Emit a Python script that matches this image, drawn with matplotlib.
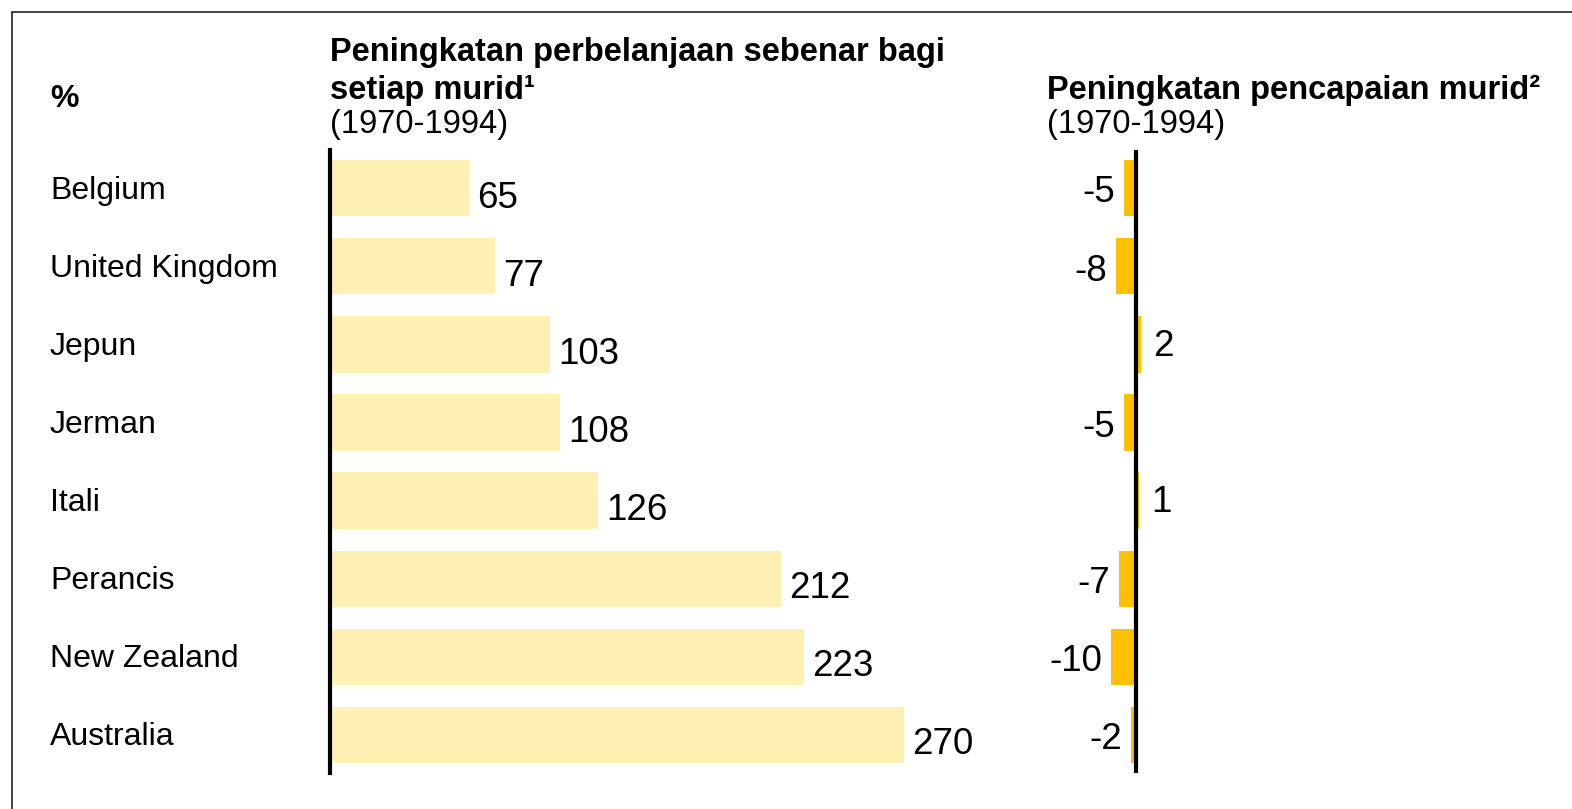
import matplotlib.pyplot as plt
from matplotlib.patches import Rectangle

plt.rcParams['font.family'] = ['Liberation Sans', 'DejaVu Sans']

countries = ['Belgium', 'United Kingdom', 'Jepun', 'Jerman', 'Itali',
             'Perancis', 'New Zealand', 'Australia']
spending = [65, 77, 103, 108, 126, 212, 223, 270]
achievement = [-5, -8, 2, -5, 1, -7, -10, -2]

W, H = 1572, 809
fig = plt.figure(figsize=(W / 100, H / 100), dpi=100)

# figure border (only top/left visible in reference)
fig.patches.append(Rectangle((12 / W, -0.1), 2, 1 - 12 / H + 0.1, transform=fig.transFigure,
                             fill=False, edgecolor='#222222', linewidth=1.2))

y0 = 1 - 773 / H
y1 = 1 - 150 / H
ypos = list(range(len(countries)))

# left panel: spending
ax1 = fig.add_axes([330 / W, y0, 700 / W, y1 - y0])
ax1.barh(ypos, spending, height=0.72, color='#FFF0B3', left=0.6)
ax1.set_xlim(0, 700 / 2.12)
ax1.set_ylim(7.49, -0.49)
for i, v in enumerate(spending):
    ax1.text(v + 4.5, i + 0.13, str(v), fontsize=26.5, va='center', ha='left')

# right panel: achievement
ax2 = fig.add_axes([1033 / W, y0, 200 / W, y1 - y0])
ax2.barh(ypos, achievement, height=0.72, color='#FFC000')
ax2.set_xlim(-41.2, 38.8)
ax2.set_ylim(7.49, -0.49)
for i, v in enumerate(achievement):
    if v < 0:
        ax2.text(v - 3.5, i + 0.06, str(v), fontsize=26.5, va='center', ha='right')
    else:
        ax2.text(v + 5.0, i + 0.03, str(v), fontsize=26.5, va='center', ha='left')

for ax in (ax1, ax2):
    for s in ['top', 'right', 'bottom']:
        ax.spines[s].set_visible(False)
    ax.set_xticks([])
    ax.set_yticks([])
    ax.patch.set_visible(False)
ax1.spines['left'].set_linewidth(3)
ax2.spines['left'].set_visible(False)
ax2.axvline(0, color='black', linewidth=3)

# country names
for i, c in enumerate(countries):
    ax1.text(-280 / 2.12, i + 0.03, c, fontsize=23, va='center', ha='left')

# headers
fig.text(50 / W, 1 - 99 / H, '%', fontsize=23, fontweight='bold', va='center')
fig.text(330 / W, 1 - 53 / H, 'Peningkatan perbelanjaan sebenar bagi', fontsize=23.5,
         fontweight='bold', va='center')
fig.text(330 / W, 1 - 90 / H, 'setiap murid\u00b9', fontsize=23.5, fontweight='bold', va='center')
fig.text(330 / W, 1 - 125 / H, '(1970-1994)', fontsize=23.5, va='center')
fig.text(1047 / W, 1 - 90 / H, 'Peningkatan pencapaian murid\u00b2', fontsize=23.5,
         fontweight='bold', va='center')
fig.text(1047 / W, 1 - 125 / H, '(1970-1994)', fontsize=23.5, va='center')

fig.savefig('out.png', dpi=100)
